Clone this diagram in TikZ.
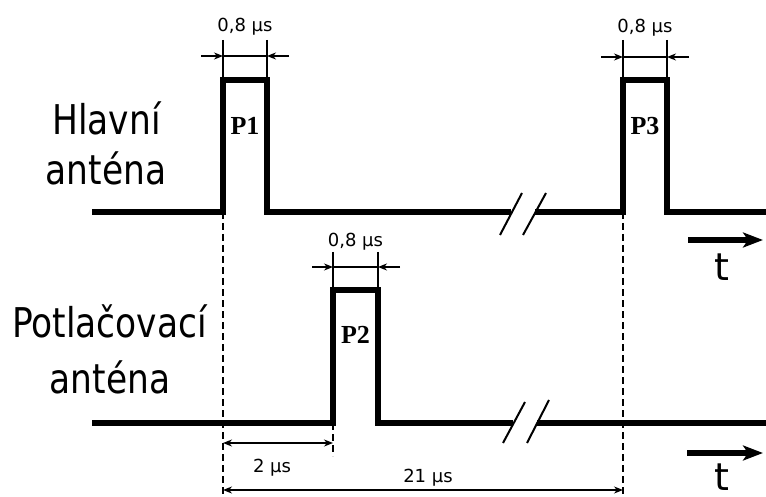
\documentclass[tikz,border=0pt]{standalone}
\usepackage{fontspec}
\setmainfont{DejaVu Sans}
\newfontfamily\pfont{Liberation Serif}
\usetikzlibrary{arrows.meta}
\begin{document}
\begin{tikzpicture}[x=1pt,y=-1pt,
  sig/.style={line width=5.5pt,line join=miter,line cap=butt},
  ext/.style={line width=2.2pt},
  guide/.style={line width=2.5pt,dash pattern=on 7pt off 4pt},
  dim/.style={line width=2pt,-{Stealth[length=9pt,width=7pt]}},
  dimboth/.style={line width=2pt,{Stealth[length=9pt,width=7pt]}-{Stealth[length=9pt,width=7pt]}},
  brk/.style={line width=2pt},
  tarrow/.style={line width=5.5pt,-{Stealth[length=20pt,width=15pt,inset=5pt]}},
  small/.style={font=\fontsize{18}{20}\selectfont,inner sep=0pt},
  big/.style={font=\fontsize{41}{48}\selectfont,inner sep=0pt,xscale=0.84},
  plab/.style={font=\pfont\bfseries\fontsize{26}{28}\selectfont,inner sep=0pt},
  tlab/.style={font=\fontsize{38}{44}\selectfont,inner sep=0pt}]
\useasboundingbox (0,0) rectangle (766,497);
\fill[white] (0,0) rectangle (766,497);

% labels
\node[big,anchor=base] (hl1) at (106.5,135) {Hlavní};
\node[big,anchor=base] (hl2) at (106,185) {anténa};
\node[big,anchor=base] (pl1) at (109.5,337) {Potlačovací};
\node[big,anchor=base] (pl2) at (110,393) {anténa};

% top signal
\draw[sig] (92,212) -- (223,212) -- (223,80) -- (267,80) -- (267,212) -- (511,212);
\draw[sig] (535,212) -- (623,212) -- (623,80) -- (667,80) -- (667,212) -- (766,212);
\draw[brk] (500,235) -- (522,193);
\draw[brk] (523,235) -- (546,193);

% bottom signal
\draw[sig] (92,423) -- (333,423) -- (333,290) -- (378,290) -- (378,423) -- (513,423);
\draw[sig] (537,423) -- (766,423);
\draw[brk] (503,443) -- (525,402);
\draw[brk] (527,443) -- (549,400);

% pulse labels
\node[plab,anchor=base] (p1) at (245,135) {P1};
\node[plab,anchor=base] (p2) at (355.5,343) {P2};
\node[plab,anchor=base] (p3) at (645,135) {P3};

% guide lines
\coordinate (g1t) at (223,212); \coordinate (g1b) at (223,497);
\coordinate (g3t) at (623,212); \coordinate (g3b) at (623,497);
\coordinate (g2t) at (333,423); \coordinate (g2b) at (333,456);
\draw[guide] (g1t) -- (g1b);
\draw[guide] (g3t) -- (g3b);
\draw[guide] (g2t) -- (g2b);

% width dimension P1
\coordinate (a1l) at (223,40); \coordinate (a1lb) at (223,80);
\coordinate (a1r) at (267,40); \coordinate (a1rb) at (267,80);
\draw[ext] (a1l) -- (a1lb);
\draw[ext] (a1r) -- (a1rb);
\coordinate (d1l) at (223,56); \coordinate (d1r) at (267,56);
\coordinate (o1l) at (201,56); \coordinate (o1r) at (289,56);
\draw[line width=2.2pt] (d1l) -- (d1r);
\draw[dim] (o1l) -- (d1l);
\draw[dim] (o1r) -- (d1r);
\node[small,anchor=base] (w1) at (245,32) {0,8 µs};

% width dimension P3
\coordinate (a3l) at (623,40); \coordinate (a3lb) at (623,80);
\coordinate (a3r) at (667,40); \coordinate (a3rb) at (667,80);
\draw[ext] (a3l) -- (a3lb);
\draw[ext] (a3r) -- (a3rb);
\coordinate (d3l) at (623,57); \coordinate (d3r) at (667,57);
\coordinate (o3l) at (601,57); \coordinate (o3r) at (689,57);
\draw[line width=2.2pt] (d3l) -- (d3r);
\draw[dim] (o3l) -- (d3l);
\draw[dim] (o3r) -- (d3r);
\node[small,anchor=base] (w3) at (645,33) {0,8 µs};

% width dimension P2
\coordinate (a2l) at (333,252); \coordinate (a2lb) at (333,290);
\coordinate (a2r) at (378,252); \coordinate (a2rb) at (378,290);
\draw[ext] (a2l) -- (a2lb);
\draw[ext] (a2r) -- (a2rb);
\coordinate (d2l) at (333,267); \coordinate (d2r) at (378,267);
\coordinate (o2l) at (312,267); \coordinate (o2r) at (400,267);
\draw[line width=2.2pt] (d2l) -- (d2r);
\draw[dim] (o2l) -- (d2l);
\draw[dim] (o2r) -- (d2r);
\node[small,anchor=base] (w2) at (355.5,247) {0,8 µs};

% time intervals
\coordinate (i2l) at (223,443); \coordinate (i2r) at (333,443);
\draw[dimboth] (i2l) -- (i2r);
\node[small,anchor=base] (t2) at (272,472) {2 µs};
\coordinate (i21l) at (223,490); \coordinate (i21r) at (623,490);
\draw[dimboth] (i21l) -- (i21r);
\node[small,anchor=base] (t21) at (428,482) {21 µs};

% time axes
\coordinate (ta1) at (688,240); \coordinate (tb1) at (763,240);
\draw[tarrow] (ta1) -- (tb1);
\node[tlab,anchor=base] (t1) at (722,280) {t};
\coordinate (ta2) at (687,453); \coordinate (tb2) at (763,453);
\draw[tarrow] (ta2) -- (tb2);
\node[tlab,anchor=base] (tt2) at (722,490) {t};
\end{tikzpicture}
\end{document}
